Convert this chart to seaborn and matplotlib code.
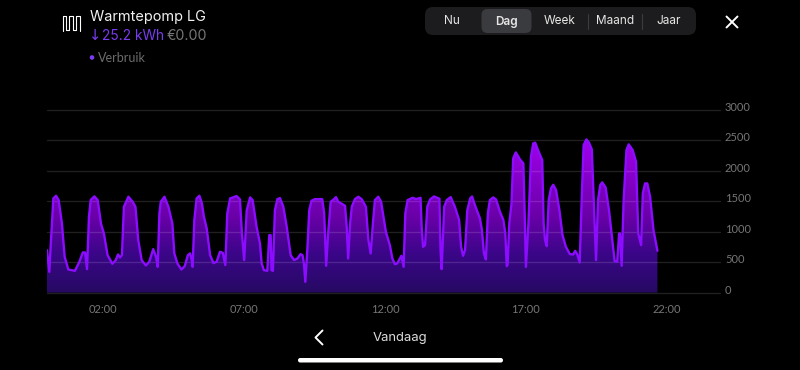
import numpy as np
import pandas as pd
import seaborn as sns
import matplotlib
matplotlib.use("Agg")
import matplotlib.pyplot as plt
from matplotlib.colors import LinearSegmentedColormap
from matplotlib.patches import FancyBboxPatch, Circle, PathPatch
from matplotlib.transforms import ScaledTranslation

hours = [0,.083,.142,.225,.32,.414,.53,.627,.757,.99,1.15,1.27,1.35,1.42,1.49,1.55,1.68,1.80,1.92,2.02,2.15,2.32,2.44,2.52,2.59,2.66,2.73,2.89,3.04,3.14,3.24,3.36,3.51,3.63,3.77,3.87,3.93,3.99,4.04,4.17,4.31,4.45,4.52,4.63,4.77,4.89,5.0,5.08,5.14,5.17,5.23,5.31,5.41,5.50,5.57,5.67,5.79,5.91,6.02,6.14,6.24,6.33,6.40,6.50,6.73,6.85,6.92,7.0,7.09,7.21,7.30,7.44,7.56,7.62,7.70,7.82,7.89,7.94,7.97,8.02,8.09,8.18,8.27,8.39,8.51,8.65,8.77,8.89,9.0,9.07,9.12,9.17,9.24,9.31,9.39,9.51,9.77,9.84,9.91,9.98,10.07,10.19,10.26,10.34,10.58,10.64,10.69,10.76,10.82,10.93,11.05,11.17,11.32,11.41,11.49,11.56,11.64,11.76,11.86,12.03,12.17,12.26,12.35,12.43,12.58,12.66,12.72,12.80,12.98,13.10,13.26,13.30,13.35,13.42,13.50,13.60,13.74,13.93,13.97,14.01,14.10,14.19,14.33,14.48,14.63,14.70,14.77,14.84,14.92,15.02,15.09,15.19,15.37,15.44,15.51,15.58,15.65,15.72,15.84,15.94,16.08,16.20,16.27,16.32,16.35,16.41,16.49,16.55,16.64,16.70,16.79,16.91,16.96,17.0,17.09,17.18,17.26,17.33,17.43,17.58,17.63,17.68,17.74,17.81,17.89,17.97,18.07,18.19,18.30,18.42,18.56,18.68,18.75,18.82,18.91,18.98,19.05,19.15,19.24,19.34,19.41,19.49,19.56,19.64,19.71,19.83,19.95,20.07,20.15,20.24,20.31,20.34,20.40,20.47,20.57,20.65,20.79,20.91,20.99,21.09,21.15,21.23,21.31,21.41,21.53,21.67]
watts = [696,340,860,1546,1590,1519,1135,587,378,356,505,658,658,384,1245,1519,1580,1519,1124,970,614,472,532,625,576,614,1409,1574,1492,1409,861,532,444,505,713,587,422,1300,1492,1574,1409,1135,642,477,378,433,614,642,532,422,1190,1546,1590,1464,1245,1053,614,483,505,669,652,450,1300,1546,1585,1530,970,532,1354,1563,1519,1080,806,477,367,356,943,943,367,356,1354,1535,1552,1409,1080,614,532,559,630,614,477,175,696,1354,1508,1535,1535,1300,439,970,1492,1535,1568,1492,1426,1080,559,1135,1409,1535,1574,1535,1409,861,642,1080,1519,1574,1492,998,779,559,466,477,603,422,1300,1519,1557,1535,1557,1080,751,779,1409,1530,1579,1541,696,384,1409,1519,1568,1409,1190,751,603,696,1354,1546,1579,1437,1217,1025,642,543,1300,1519,1563,1530,1327,1190,971,433,450,1135,1464,2205,2303,2259,2188,2122,1245,422,1135,2232,2451,2462,2341,2177,1135,861,762,1519,1711,1771,1684,1355,943,751,631,625,685,631,494,1519,2424,2517,2462,2353,1519,532,1519,1766,1810,1727,1355,861,516,505,971,971,439,1519,2342,2435,2342,2150,971,779,1629,1793,1793,1574,1025,685]
y_ticks = [0,500,1000,1500,2000,2500,3000]
x_ticks = [2,7,12,17,22]
x_labels = ["02:00","07:00","12:00","17:00","22:00"]
periods = ["Nu","Dag","Week","Maand","Jaar"]

sns.set_style("dark", {"axes.facecolor":"black","figure.facecolor":"black"})
plt.rcParams["font.family"] = ["Lato","DejaVu Sans"]

fig = plt.figure(figsize=(8,3.7), dpi=100, facecolor="black")
L,R,B,T = 47,720,292.5,110
ax = fig.add_axes([L/800, 1-B/370, (R-L)/800, (B-T)/370], facecolor="black")
df = pd.DataFrame({"hour":hours,"watt":watts})

cmap = LinearSegmentedColormap.from_list("g",["#260a62","#3a0688","#6a00a8","#8400c8","#a400ec"])
poly = ax.fill_between(df.hour, df.watt, 0, color="none", lw=0)
im = ax.imshow(np.linspace(1,0,256).reshape(-1,1), cmap=cmap, aspect="auto",
               extent=[0,21.67,0,2520], zorder=1)
clip = PathPatch(poly.get_paths()[0], transform=ax.transData)
im.set_clip_path(clip)
sns.lineplot(data=df, x="hour", y="watt", ax=ax, color="#8b0cff", lw=1.7, zorder=3,
             errorbar=None, estimator=None, sort=False)

ax.set_xlim(0,(R-L)/28.17)
ax.set_ylim(0,3000)
ax.set_xlabel(""); ax.set_ylabel("")
for s in ax.spines.values(): s.set_visible(False)
ax.grid(False)
for v in y_ticks:
    ax.axhline(v, color="#ffffff", alpha=.13, lw=1, zorder=2, clip_on=False)
ax.yaxis.tick_right()
ax.set_yticks(y_ticks); ax.set_yticklabels([str(v) for v in y_ticks])
ax.set_xticks(x_ticks); ax.set_xticklabels(x_labels)
ax.tick_params(axis="both", length=0, colors="#767676", labelsize=8)
ax.tick_params(axis="y", pad=3.5)
ax.tick_params(axis="x", pad=8.5)
off = ScaledTranslation(0, 3.5/100, fig.dpi_scale_trans)
for t in ax.get_yticklabels():
    t.set_transform(t.get_transform()+off)

ui = fig.add_axes([0,0,1,1], facecolor="none")
ui.set_xlim(0,800); ui.set_ylim(370,0); ui.axis("off")
ui.grid(False)
# icon: serpentine heating coil
coil_x = [62.5,62.5,65.5,65.5,69,69,72.5,72.5,76,76,79.5,79.5]
coil_y = [31,15.5,15.5,30,30,15.5,15.5,30,30,15.5,15.5,31]
ui.plot(coil_x, coil_y, color="white", lw=.8, solid_joinstyle="round")
F=["Inter","DejaVu Sans"]
ui.text(90,17,"Warmtepomp LG",color="#f2f2f2",fontsize=10.4,family=F,va="center")
ui.text(88.5,36,"↓",color="#7a3cf0",fontsize=10.5,family=["DejaVu Sans"],va="center")
ui.text(102,36,"25.2 kWh",color="#7a3cf0",fontsize=9.9,family=F,va="center")
ui.text(167,36,"€0.00",color="#777777",fontsize=10.2,family=F,va="center")
ui.add_patch(Circle((92,57.5),2.3,color="#7a3cf0",lw=0))
ui.text(98,58,"Verbruik",color="#6c6c6c",fontsize=9,family=["Lato"],va="center")
# segmented control
ui.add_patch(FancyBboxPatch((425,7),271,28,boxstyle="round,pad=0,rounding_size=8",fc="#1c1c1e",ec="none"))
ui.add_patch(FancyBboxPatch((481.5,9),50,24,boxstyle="round,pad=0,rounding_size=6",fc="#3a3b3f",ec="none"))
for xp,lab in zip([452,506,560,615,669],periods):
    ui.text(xp,21.5,lab,color="#e6e6e6",fontsize=8.5,family=F,va="center",ha="center",
            fontweight="semibold" if lab=="Dag" else "normal")
for xp in [588,642]:
    ui.plot([xp,xp],[14,29],color="#3c3c3e",lw=.8)
ui.plot([726.5,737.5],[16.5,27.5],color="white",lw=1.4)
ui.plot([726.5,737.5],[27.5,16.5],color="white",lw=1.4)
# footer
ui.plot([322.5,315.5,322.5],[330.5,337.5,344.5],color="white",lw=1.4)
ui.text(400,337.5,"Vandaag",color="#dddddd",fontsize=9.4,family=F,ha="center",va="center")
ui.add_patch(FancyBboxPatch((298,358),205,4.5,boxstyle="round,pad=0,rounding_size=2.2",fc="white",ec="none"))

fig.savefig("out.png", dpi=100, facecolor="black")
